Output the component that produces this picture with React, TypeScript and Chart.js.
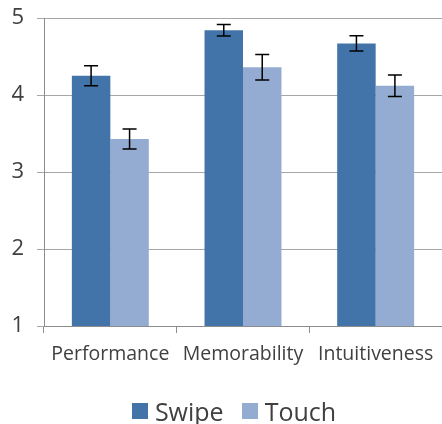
import React, { useEffect, useRef } from "react";
import { Chart, registerables } from "chart.js";

Chart.register(...registerables);

const categories = ["Performance", "Memorability", "Intuitiveness"];
const seriesNames = ["Swipe", "Touch"];
const swipeValues = [4.25, 4.84, 4.67];
const touchValues = [3.43, 4.36, 4.12];
const swipeErrors = [0.13, 0.075, 0.1];
const touchErrors = [0.13, 0.165, 0.14];
const yTicks = [1, 2, 3, 4, 5];
const seriesColors = ["#4374A9", "#94ABD2"];

const FONT = "'Open Sans', 'DejaVu Sans', sans-serif";
const TEXT = "#404040";

const errorBarPlugin = {
  id: "errorBars",
  afterDatasetsDraw(chart: any) {
    const ctx = chart.ctx;
    const yScale = chart.scales.y;
    chart.data.datasets.forEach((ds: any, i: number) => {
      const meta = chart.getDatasetMeta(i);
      const errs: number[] = ds.errors || [];
      meta.data.forEach((el: any, j: number) => {
        const v = ds.data[j];
        const e = errs[j];
        if (e == null) return;
        const x = el.x;
        const yT = yScale.getPixelForValue(v + e);
        const yB = yScale.getPixelForValue(v - e);
        const cap = 7;
        ctx.save();
        ctx.strokeStyle = "#000";
        ctx.lineWidth = 1.5;
        ctx.beginPath();
        ctx.moveTo(x, yT);
        ctx.lineTo(x, yB);
        ctx.moveTo(x - cap, yT);
        ctx.lineTo(x + cap, yT);
        ctx.moveTo(x - cap, yB);
        ctx.lineTo(x + cap, yB);
        ctx.stroke();
        ctx.restore();
      });
    });
  },
};

export default function App() {
  const ref = useRef<HTMLCanvasElement | null>(null);
  useEffect(() => {
    document.body.style.margin = "0";
    const chart = new Chart(ref.current as HTMLCanvasElement, {
      type: "bar",
      data: {
        labels: categories,
        datasets: [
          {
            label: seriesNames[0],
            data: swipeValues,
            errors: swipeErrors,
            backgroundColor: seriesColors[0],
            categoryPercentage: 0.58,
            barPercentage: 1,
          } as any,
          {
            label: seriesNames[1],
            data: touchValues,
            errors: touchErrors,
            backgroundColor: seriesColors[1],
            categoryPercentage: 0.58,
            barPercentage: 1,
          } as any,
        ],
      },
      options: {
        responsive: false,
        animation: false,
        layout: { padding: { top: 18, right: 0, left: 0, bottom: 0 } },
        plugins: {
          tooltip: { enabled: false },
          legend: { display: false },
        },
        scales: {
          x: {
            grid: {
              offset: true,
              drawOnChartArea: false,
              drawTicks: true,
              tickLength: 7,
              color: "#8c8c8c",
            },
            border: { color: "#8c8c8c", width: 1 },
            ticks: {
              font: { family: FONT, size: 19.5 },
              color: TEXT,
              padding: 10,
              maxRotation: 0,
            },
            afterFit(scale: any) {
              scale.height = 98;
              scale.paddingLeft = 0;
              scale.paddingRight = 0;
            },
          },
          y: {
            min: 1,
            max: 5,
            afterBuildTicks(scale: any) {
              scale.ticks = yTicks.map((v) => ({ value: v }));
            },
            grid: { color: "#a6a6a6", tickLength: 7, lineWidth: 1 },
            border: { color: "#8c8c8c", width: 1 },
            ticks: {
              font: { family: FONT, size: 22 },
              color: TEXT,
              padding: 13,
            },
            afterFit(scale: any) {
              scale.width = 44;
              scale.paddingTop = 0;
              scale.paddingBottom = 0;
            },
          },
        },
      } as any,
      plugins: [errorBarPlugin],
    });
    return () => chart.destroy();
  }, []);
  return (
    <div style={{ position: "absolute", left: 0, top: 0, width: 442, height: 424 }}>
      <canvas ref={ref} width={442} height={424} />
      <div
        style={{
          position: "absolute",
          left: 13,
          top: 396,
          width: 442,
          height: 30,
          display: "flex",
          justifyContent: "center",
          alignItems: "center",
          fontFamily: FONT,
          fontSize: 25,
          color: TEXT,
          lineHeight: "30px",
        }}
      >
        {seriesNames.map((name, i) => (
          <div
            key={name}
            style={{ display: "flex", alignItems: "center", marginLeft: i === 0 ? 0 : 18 }}
          >
            <span
              style={{
                display: "inline-block",
                width: 16,
                height: 16,
                background: seriesColors[i],
                marginRight: 7,
              }}
            />
            <span>{name}</span>
          </div>
        ))}
      </div>
    </div>
  );
}
